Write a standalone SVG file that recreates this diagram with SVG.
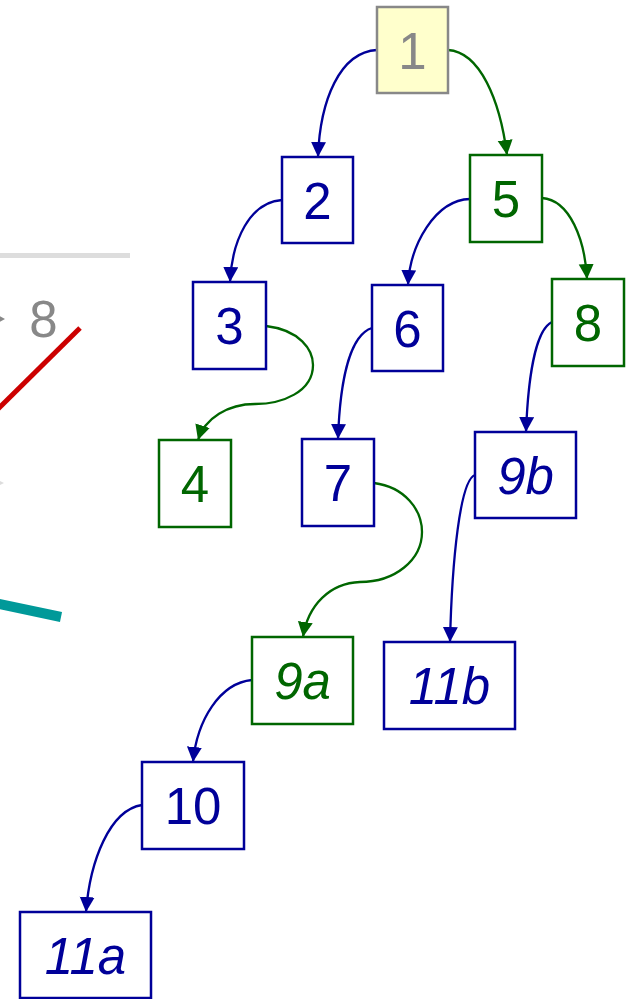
<svg xmlns="http://www.w3.org/2000/svg" width="630" height="999" viewBox="0 0 630 999">
<style>
.n rect{fill:#fff;stroke-width:2.5}
.b rect{stroke:#000099}
.g rect{stroke:#006600}
.n text{font-family:"Liberation Sans",Arial,sans-serif;font-size:51px;text-anchor:middle}
.b text{fill:#000099}
.g text{fill:#006600}
.i text{font-style:italic}
.e path{fill:none;stroke-width:2.3}
.e .eb{stroke:#000099;marker-end:url(#ab)}
.e .eg{stroke:#006600;marker-end:url(#ag)}
</style>
<defs>
<marker id="ab" markerUnits="userSpaceOnUse" markerWidth="16" markerHeight="16" refX="15" refY="7.5" orient="auto"><path d="M0,0L15,7.5L0,15z" fill="#000099"/></marker>
<marker id="ag" markerUnits="userSpaceOnUse" markerWidth="16" markerHeight="16" refX="15" refY="7.5" orient="auto"><path d="M0,0L15,7.5L0,15z" fill="#006600"/></marker>
</defs>
<rect width="630" height="999" fill="#fff"/>
<g id="background-partial">
<line x1="-5" y1="255.5" x2="130" y2="255.5" stroke="#dddddd" stroke-width="5"/>
<polygon points="-9,311.5 5,319 -9,326.5" fill="#888888"/>
<text x="43.5" y="337" font-family="Liberation Sans,Arial,sans-serif" font-size="51" fill="#888888" text-anchor="middle">8</text>
<line x1="80" y1="328" x2="-5" y2="412" stroke="#cc0000" stroke-width="5"/>
<polygon points="-10,476 4,483 -10,490" fill="#dddddd"/>
<line x1="-5" y1="603" x2="61" y2="617" stroke="#009999" stroke-width="10"/>
</g>
<g id="connectors" class="e">
<path class="eb" d="M377,50 C340,52 320,100 318,157"/>
<path class="eg" d="M448,50 C480,52 500,100 507,155"/>
<path class="eb" d="M282,200 C250,202 232,240 230,282"/>
<path class="eb" d="M470,199 C435,200 410,245 408,285"/>
<path class="eg" d="M542,198 C570,200 585,240 587,279"/>
<path class="eg" d="M266,326 C300,330 313,350 313,365 C313,392 282,404 255,404 C228,404 205,418 198,440"/>
<path class="eb" d="M372,328 C350,335 340,380 338,439"/>
<path class="eg" d="M374,483 C405,487 422,510 422,532 C422,560 395,582 360,582 C330,583 308,605 303,637"/>
<path class="eb" d="M552,322 C535,330 528,380 526,432"/>
<path class="eb" d="M475,475 C460,480 452,560 450,642"/>
<path class="eb" d="M252,680 C220,683 197,720 193,762"/>
<path class="eb" d="M142,805 C110,810 90,860 86,912"/>
</g>
<g id="n1" class="n"><rect x="377" y="7" width="71" height="86" style="fill:#ffffcc;stroke:#888888"/><text x="412.5" y="68.5" style="fill:#888888">1</text></g>
<g id="n2" class="n b"><rect x="282" y="157" width="71" height="86"/><text x="317.5" y="218.5">2</text></g>
<g id="n5" class="n g"><rect x="470" y="155" width="72" height="87"/><text x="506" y="217">5</text></g>
<g id="n3" class="n b"><rect x="193" y="282" width="73" height="87"/><text x="229.5" y="344">3</text></g>
<g id="n6" class="n b"><rect x="372" y="285" width="71" height="86"/><text x="407.5" y="346.5">6</text></g>
<g id="n8" class="n g"><rect x="552" y="279" width="72" height="87"/><text x="588" y="341">8</text></g>
<g id="n4" class="n g"><rect x="159" y="440" width="72" height="87"/><text x="195" y="502">4</text></g>
<g id="n7" class="n b"><rect x="302" y="439" width="72" height="87"/><text x="338" y="501">7</text></g>
<g id="n9b" class="n b i"><rect x="475" y="432" width="101" height="86"/><text x="525.5" y="493.5">9b</text></g>
<g id="n9a" class="n g i"><rect x="252" y="637" width="101" height="87"/><text x="302.5" y="699">9a</text></g>
<g id="n11b" class="n b i"><rect x="384" y="642" width="131" height="87"/><text x="449.5" y="704">11b</text></g>
<g id="n10" class="n b"><rect x="142" y="762" width="102" height="87"/><text x="193" y="824">10</text></g>
<g id="n11a" class="n b i"><rect x="20" y="912" width="131" height="86"/><text x="85.5" y="973.5">11a</text></g>
</svg>
